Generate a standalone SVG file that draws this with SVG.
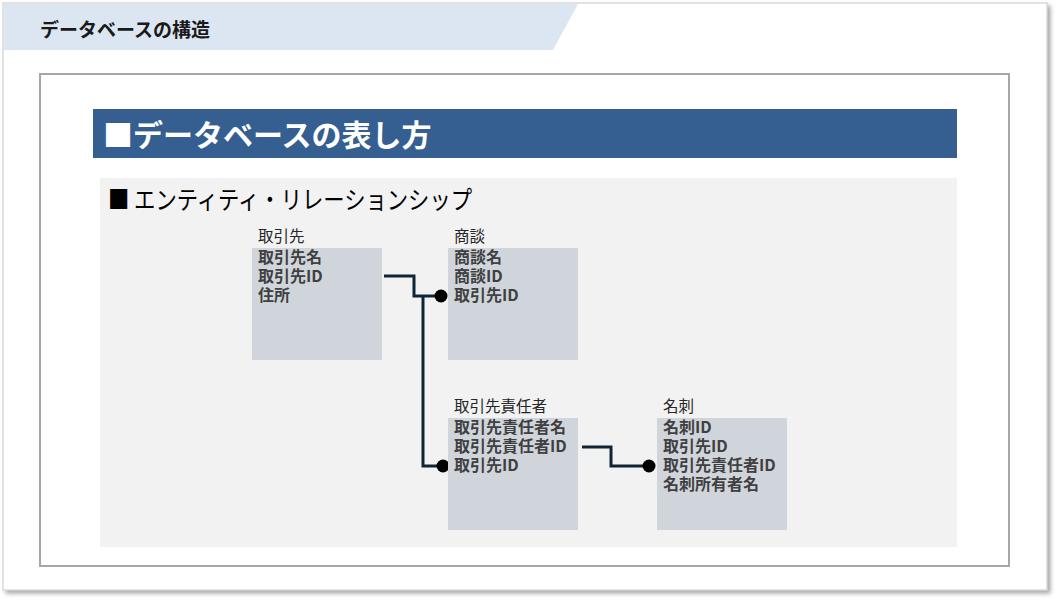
<svg xmlns="http://www.w3.org/2000/svg" width="1056" height="600" viewBox="0 0 1056 600">
<style>
.jp{font-family:"Noto Sans CJK JP","Noto Sans",sans-serif;}
.lbl{font-size:15.5px;fill:#262626;}
.row{font-size:16px;font-weight:bold;fill:#404040;}
.box{fill:#d0d5dc;}
.conn{fill:none;stroke:#0f2536;stroke-width:3;}
.dot{fill:#000;}
</style>
<defs>
<filter id="sh" x="-5%" y="-5%" width="110%" height="110%">
<feDropShadow dx="3" dy="3" stdDeviation="2" flood-color="#000" flood-opacity="0.35"/>
</filter>
</defs>
<rect x="0" y="0" width="1056" height="600" fill="#fff"/>
<rect x="3" y="3" width="1044" height="587" fill="#fff" stroke="#c8c8c8" stroke-width="1" filter="url(#sh)"/>
<polygon points="4,4 578,4 553,50 4,50" fill="#dce6f2"/>
<text x="40" y="37" class="jp" font-size="19" font-weight="bold" fill="#1a1a1a">データベースの構造</text>
<rect x="40" y="74" width="969" height="492" fill="#fff" stroke="#a6a6a6" stroke-width="2"/>
<rect x="93" y="109" width="864" height="49" fill="#365f91"/>
<text x="103" y="146" class="jp" font-size="30" font-weight="bold" fill="#fff">■データベースの表し方</text>
<rect x="100" y="178" width="857" height="369" fill="#f2f2f2"/>
<text x="108" y="209" class="jp" font-size="25" fill="#000" textLength="364" lengthAdjust="spacingAndGlyphs">■ エンティティ・リレーションシップ</text>
<g id="conn">
<polyline class="conn" points="384,276 414,276 414,296 440,296"/>
<polyline class="conn" points="423,296 423,466 443,466"/>
<polyline class="conn" points="582,447 611,447 611,466 648,466"/>
<circle class="dot" cx="441" cy="296" r="6.5"/>
<circle class="dot" cx="443" cy="466" r="6.5"/>
<circle class="dot" cx="649" cy="466" r="6.5"/>
</g>
<g id="torihikisaki">
<text x="258" y="242" class="jp lbl">取引先</text>
<rect x="252" y="248" width="130" height="112" class="box"/>
<text x="258" y="263" class="jp row">取引先名</text>
<text x="258" y="282" class="jp row">取引先ID</text>
<text x="258" y="301" class="jp row">住所</text>
</g>
<g id="shodan">
<text x="454" y="242" class="jp lbl">商談</text>
<rect x="448" y="248" width="130" height="112" class="box"/>
<text x="454" y="263" class="jp row">商談名</text>
<text x="454" y="282" class="jp row">商談ID</text>
<text x="454" y="301" class="jp row">取引先ID</text>
</g>
<g id="tantousha">
<text x="454" y="412" class="jp lbl">取引先責任者</text>
<rect x="448" y="418" width="130" height="112" class="box"/>
<text x="454" y="433" class="jp row">取引先責任者名</text>
<text x="454" y="452" class="jp row">取引先責任者ID</text>
<text x="454" y="471" class="jp row">取引先ID</text>
</g>
<g id="meishi">
<text x="663" y="412" class="jp lbl">名刺</text>
<rect x="657" y="418" width="130" height="112" class="box"/>
<text x="663" y="433" class="jp row">名刺ID</text>
<text x="663" y="452" class="jp row">取引先ID</text>
<text x="663" y="471" class="jp row">取引先責任者ID</text>
<text x="663" y="490" class="jp row">名刺所有者名</text>
</g>
</svg>
